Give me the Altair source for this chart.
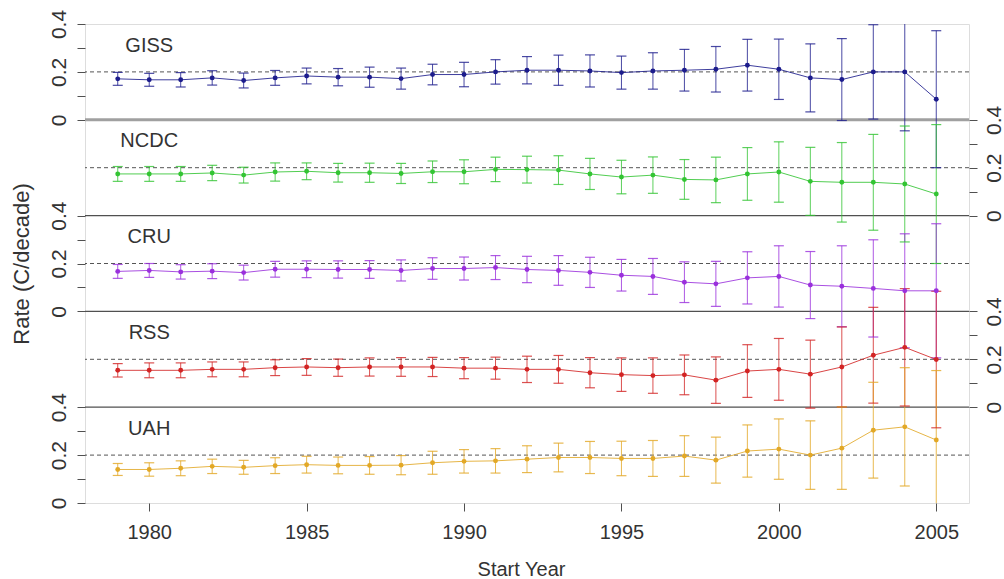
import altair as alt
import pandas as pd

# ---------------- data ----------------
YEARS = [1979, 1980, 1981, 1982, 1983, 1984, 1985, 1986, 1987, 1988,
         1989, 1990, 1991, 1992, 1993, 1994, 1995, 1996, 1997, 1998,
         1999, 2000, 2001, 2002, 2003, 2004, 2005]

SERIES = ["GISS", "NCDC", "CRU", "RSS", "UAH"]
COLORS = ["#1c1c8c", "#33c433", "#9a30dc", "#d22424", "#e2a826"]

GISS_RATE = [0.171, 0.167, 0.167, 0.175, 0.164, 0.175, 0.183, 0.178, 0.178, 0.172,
             0.189, 0.189, 0.200, 0.207, 0.207, 0.204, 0.197, 0.204, 0.207, 0.211,
             0.228, 0.211, 0.175, 0.168, 0.200, 0.200, 0.086]
GISS_ERR = [0.027, 0.027, 0.030, 0.030, 0.031, 0.031, 0.033, 0.036, 0.042, 0.044,
            0.043, 0.051, 0.051, 0.057, 0.063, 0.067, 0.069, 0.076, 0.087, 0.095,
            0.108, 0.126, 0.142, 0.171, 0.197, 0.246, 0.286]

NCDC_RATE = [0.174, 0.174, 0.174, 0.178, 0.169, 0.182, 0.185, 0.179, 0.179, 0.176,
             0.183, 0.183, 0.193, 0.192, 0.190, 0.174, 0.161, 0.169, 0.151, 0.149,
             0.174, 0.182, 0.143, 0.139, 0.139, 0.132, 0.090]
NCDC_ERR = [0.031, 0.031, 0.031, 0.032, 0.033, 0.038, 0.035, 0.039, 0.040, 0.042,
            0.045, 0.050, 0.051, 0.056, 0.060, 0.065, 0.070, 0.076, 0.083, 0.095,
            0.110, 0.126, 0.142, 0.166, 0.200, 0.242, 0.290]

CRU_RATE = [0.167, 0.171, 0.165, 0.168, 0.162, 0.176, 0.176, 0.175, 0.175, 0.171,
            0.179, 0.179, 0.183, 0.175, 0.171, 0.163, 0.151, 0.146, 0.122, 0.115,
            0.140, 0.146, 0.110, 0.105, 0.096, 0.086, 0.086]
CRU_ERR = [0.029, 0.029, 0.030, 0.031, 0.031, 0.033, 0.035, 0.036, 0.037, 0.044,
           0.045, 0.048, 0.050, 0.055, 0.062, 0.063, 0.066, 0.075, 0.085, 0.094,
           0.109, 0.128, 0.140, 0.169, 0.203, 0.238, 0.280]

RSS_RATE = [0.154, 0.154, 0.154, 0.158, 0.158, 0.165, 0.168, 0.165, 0.168, 0.168,
            0.168, 0.163, 0.163, 0.158, 0.158, 0.144, 0.136, 0.132, 0.135, 0.113,
            0.151, 0.158, 0.138, 0.168, 0.217, 0.250, 0.199]
RSS_ERR = [0.028, 0.031, 0.031, 0.031, 0.031, 0.033, 0.035, 0.036, 0.038, 0.039,
           0.040, 0.044, 0.046, 0.055, 0.058, 0.063, 0.070, 0.074, 0.083, 0.097,
           0.110, 0.129, 0.142, 0.167, 0.200, 0.245, 0.285]

UAH_RATE = [0.140, 0.140, 0.145, 0.153, 0.149, 0.156, 0.160, 0.157, 0.157, 0.158,
            0.168, 0.174, 0.176, 0.183, 0.190, 0.190, 0.186, 0.186, 0.196, 0.179,
            0.217, 0.225, 0.200, 0.229, 0.304, 0.318, 0.263]
UAH_ERR = [0.025, 0.028, 0.031, 0.030, 0.029, 0.033, 0.035, 0.035, 0.037, 0.040,
           0.048, 0.049, 0.051, 0.056, 0.060, 0.067, 0.072, 0.075, 0.085, 0.096,
           0.109, 0.126, 0.143, 0.172, 0.200, 0.247, 0.290]

PANEL_TICKS = [0.0, 0.1, 0.2, 0.3, 0.4]
PANEL_TICK_LABELS = ["0", "", "0.2", "", "0.4"]
X_TICKS = [1980, 1985, 1990, 1995, 2000, 2005]
REFERENCE_RATE = 0.2

# ---------------- layout constants ----------------
PANEL_SPAN = 0.4
N = len(SERIES)
TOTAL = PANEL_SPAN * N
LABEL_YEAR = 1980
LABEL_LOCAL_Y = 0.31
FONT = "Liberation Sans"
TXT = "#333333"

RATES = {"GISS": GISS_RATE, "NCDC": NCDC_RATE, "CRU": CRU_RATE,
         "RSS": RSS_RATE, "UAH": UAH_RATE}
ERRS = {"GISS": GISS_ERR, "NCDC": NCDC_ERR, "CRU": CRU_ERR,
        "RSS": RSS_ERR, "UAH": UAH_ERR}


def offset(i):
    return round((N - 1 - i) * PANEL_SPAN, 4)


rows = []
for i, s in enumerate(SERIES):
    off = offset(i)
    for yr, r, e in zip(YEARS, RATES[s], ERRS[s]):
        rows.append({"series": s, "year": yr, "y": r + off,
                     "lo": r - e + off, "hi": r + e + off})
df = pd.DataFrame(rows)

labels_df = pd.DataFrame([{"series": s, "year": LABEL_YEAR,
                           "y": offset(i) + LABEL_LOCAL_Y}
                          for i, s in enumerate(SERIES)])
dash_df = pd.DataFrame([{"y": offset(i) + REFERENCE_RATE} for i in range(N)])

sep_rows = []
for i in range(1, N):
    yv = offset(i - 1)
    # the GISS zero line is drawn thicker and lighter in the reference
    thick = (i == 1)
    sep_rows.append({"y": yv, "c": "#a0a0a0" if thick else "#505050",
                     "w": 3.0 if thick else 1.3})
sep_df = pd.DataFrame(sep_rows)


def ticks_for(panels):
    vals, labs = [], []
    for i in panels:
        for t, l in zip(PANEL_TICKS, PANEL_TICK_LABELS):
            vals.append(round(offset(i) + t, 4))
            labs.append(l)
    return vals, labs


def label_expr(vals, labs):
    parts = [f"abs(datum.value - {v}) < 0.001 ? '{l}'" for v, l in zip(vals, labs)]
    return " : ".join(parts) + " : ''"


left_vals, left_labs = ticks_for([0, 2, 4])
right_vals, right_labs = ticks_for([1, 3])

yscale = alt.Scale(domain=[0, TOTAL], nice=False, zero=False)
xscale = alt.Scale(domain=[YEARS[0] - 0.04 * (YEARS[-1] - YEARS[0]),
                           YEARS[-1] + 0.04 * (YEARS[-1] - YEARS[0])],
                   nice=False, zero=False)

left_axis = alt.Axis(values=left_vals, labelExpr=label_expr(left_vals, left_labs),
                     orient="left", grid=False, domain=False, tickSize=8,
                     tickColor="#505050", labelAngle=270, labelAlign="center",
                     labelBaseline="bottom", labelPadding=8, labelFontSize=21,
                     labelColor=TXT, labelFont=FONT, title="Rate (C/decade)",
                     titleFontSize=22, titleFontWeight="normal", titleColor=TXT,
                     titleFont=FONT, titleAngle=270, titleAlign="center",
                     titleBaseline="middle", titleX=-64, titleY=239.5)

right_axis = alt.Axis(values=right_vals, labelExpr=label_expr(right_vals, right_labs),
                      orient="right", grid=False, domain=False, tickSize=8,
                      tickColor="#505050", labelAngle=270, labelAlign="center",
                      labelBaseline="top", labelPadding=6, labelFontSize=21,
                      labelColor=TXT, labelFont=FONT, title="")

x_axis = alt.Axis(values=X_TICKS, format="d", grid=False, domain=False, tickSize=8,
                  tickColor="#505050", labelFontSize=20, labelColor=TXT,
                  labelFont=FONT, labelPadding=11, title="Start Year",
                  titleFontSize=20, titleFontWeight="normal", titleColor=TXT,
                  titleFont=FONT, titleX=436, titleY=66, titleBaseline="middle",
                  titleAlign="center")

color = alt.Color("series:N", scale=alt.Scale(domain=SERIES, range=COLORS), legend=None)


def X(field="year"):
    return alt.X(f"{field}:Q", scale=xscale, axis=x_axis)


def Y(field):
    return alt.Y(f"{field}:Q", scale=yscale, axis=left_axis)


seps = alt.Chart(sep_df).mark_rule().encode(
    y=alt.Y("y:Q", scale=yscale, axis=right_axis),
    color=alt.Color("c:N", scale=None),
    strokeWidth=alt.StrokeWidth("w:Q", scale=None),
)

dashes = alt.Chart(dash_df).mark_rule(color="#555555", strokeDash=[4, 3],
                                      strokeWidth=1).encode(y=Y("y"))

bars = alt.Chart(df).mark_rule(clip=True, strokeWidth=1, opacity=0.8).encode(
    x=X(), y=Y("lo"), y2="hi", color=color)

caps_lo = alt.Chart(df).mark_tick(clip=True, orient="horizontal", size=10,
                                  thickness=1.2, opacity=0.8).encode(
    x=X(), y=Y("lo"), color=color)
caps_hi = alt.Chart(df).mark_tick(clip=True, orient="horizontal", size=10,
                                  thickness=1.2, opacity=0.8).encode(
    x=X(), y=Y("hi"), color=color)

lines = alt.Chart(df).mark_line(clip=True, strokeWidth=1, opacity=0.85).encode(
    x=X(), y=Y("y"), color=color, detail="series:N")

points = alt.Chart(df).mark_point(filled=True, size=24, opacity=1).encode(
    x=X(), y=Y("y"), color=color)

texts = alt.Chart(labels_df).mark_text(font=FONT, fontSize=20, color=TXT,
                                       align="center", baseline="middle").encode(
    x=X(), y=Y("y"), text="series:N")

main = alt.layer(dashes, bars, caps_lo, caps_hi, lines, points, texts)

chart = alt.layer(seps, main).resolve_scale(y="independent").properties(
    width=884, height=479,
    padding={"left": 85, "top": 24, "right": 35, "bottom": 76},
    autosize=alt.AutoSizeParams(type="none"),
    background="white",
).configure_view(stroke="#808080", strokeWidth=1.5).configure(font=FONT)

chart.save("out.html", embed_options={"renderer": "svg", "actions": False})
